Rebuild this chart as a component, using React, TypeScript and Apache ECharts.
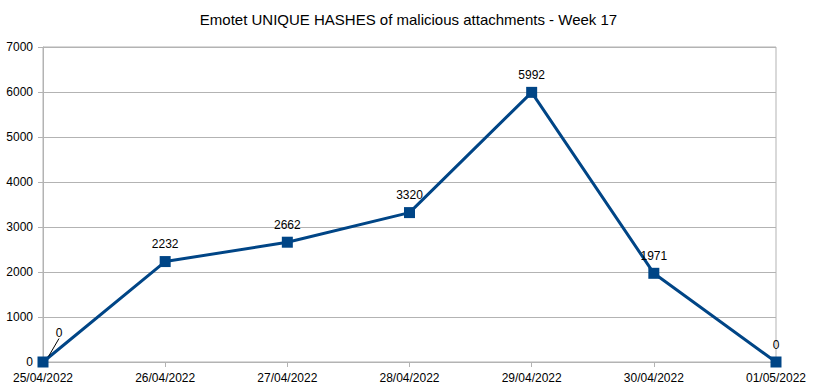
import React, { useEffect, useRef } from "react";
import * as echarts from "echarts";

const titleText = "Emotet UNIQUE HASHES of malicious attachments - Week 17";
const categories = ["25/04/2022", "26/04/2022", "27/04/2022", "28/04/2022", "29/04/2022", "30/04/2022", "01/05/2022"];
const values = [0, 2232, 2662, 3320, 5992, 1971, 0];
const yMin = 0;
const yMax = 7000;
const yInterval = 1000;

const FONT = "'Liberation Sans', Arial, sans-serif";

export default function App() {
  const ref = useRef<HTMLDivElement>(null);
  useEffect(() => {
    if (!ref.current) return;
    const chart = echarts.init(ref.current, undefined, { renderer: "svg" });
    const labelOffsets: Record<number, [number, number]> = {
      1: [-9, 0],
      3: [-12, 0],
    };
    chart.setOption({
      animation: false,
      backgroundColor: "#ffffff",
      textStyle: { fontFamily: FONT },
      title: {
        text: titleText,
        left: "center",
        top: 7,
        textStyle: { fontFamily: FONT, fontSize: 15, fontWeight: "normal", color: "#000" },
      },
      grid: {
        left: 43,
        right: 41,
        top: 47,
        bottom: 28,
        show: true,
        borderColor: "#b3b3b3",
        borderWidth: 1,
      },
      xAxis: {
        type: "category",
        data: categories,
        boundaryGap: false,
        axisLine: { lineStyle: { color: "#b3b3b3" } },
        axisTick: { show: true, length: 5, lineStyle: { color: "#b3b3b3" } },
        axisLabel: { color: "#000", fontSize: 12, fontFamily: FONT, margin: 10, interval: 0 },
        splitLine: { show: false },
      },
      yAxis: {
        type: "value",
        min: yMin,
        max: yMax,
        interval: yInterval,
        axisLine: { show: true, lineStyle: { color: "#b3b3b3" } },
        axisTick: { show: true, length: 5, lineStyle: { color: "#b3b3b3" } },
        axisLabel: {
          color: "#000",
          fontSize: 12,
          fontFamily: FONT,
          margin: 10,
          formatter: (v: number) => String(v),
        },
        splitLine: { show: true, lineStyle: { color: "#b3b3b3" } },
      },
      series: [
        {
          type: "line",
          data: values.map((v, i) => {
            const item: any = { value: v, label: { color: "#000000" } };
            if (labelOffsets[i]) item.label.offset = labelOffsets[i];
            if (i === 0) item.labelLine = { show: true, lineStyle: { color: "#000000", width: 1 } };
            return item;
          }),
          color: "#004586",
          lineStyle: { color: "#004586", width: 3 },
          symbol: "rect",
          symbolSize: 11,
          itemStyle: { color: "#004586" },
          label: {
            show: true,
            position: "top",
            distance: 6,
            color: "#000000",
            fontSize: 12,
            fontFamily: FONT,
            textBorderWidth: 0,
          },
          labelLayout: (params: any) => {
            if (params.dataIndex === 0) {
              return { dx: 16, dy: -12 };
            }
            return {};
          },
        },
      ],
    });
    return () => chart.dispose();
  }, []);
  return (
    <div
      ref={ref}
      style={{ position: "fixed", left: 0, top: 0, width: 817, height: 390 }}
    />
  );
}
